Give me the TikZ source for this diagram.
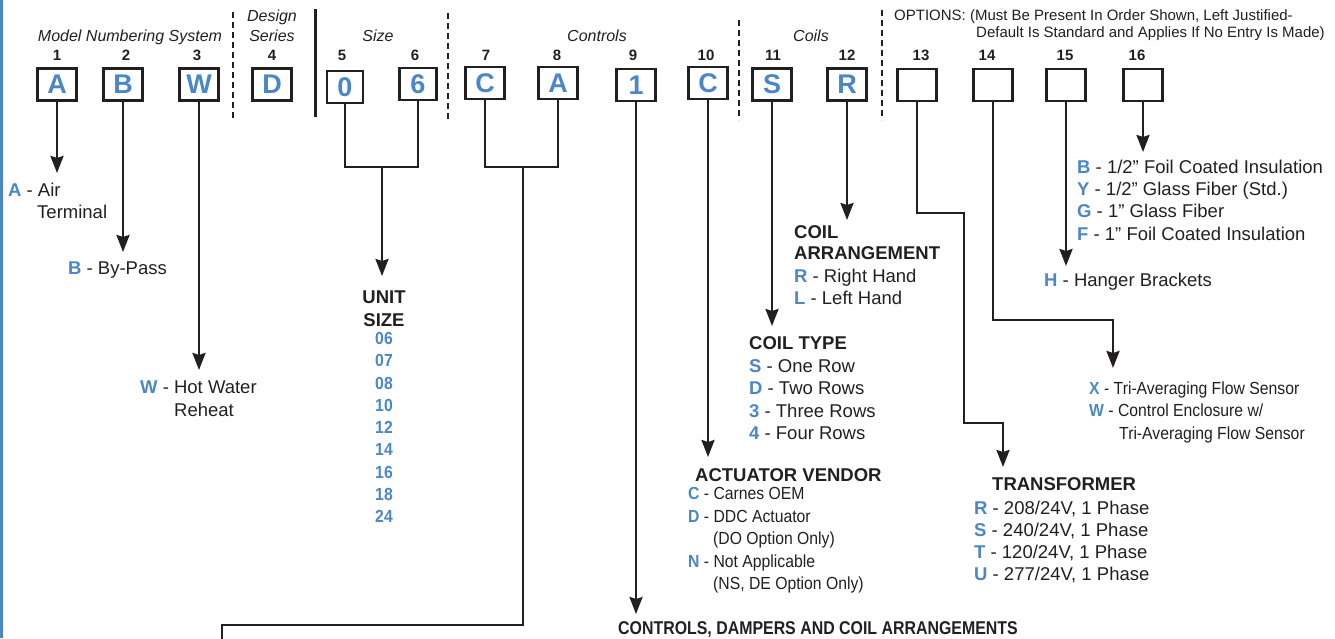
\documentclass[tikz,border=0pt]{standalone}
\usepackage{fontspec}
\setmainfont{Liberation Sans}
\newfontfamily\cond[FakeStretch=0.9]{Liberation Sans}
\newfontfamily\condx[FakeStretch=0.86]{Liberation Sans}
\usetikzlibrary{arrows.meta}
\definecolor{kb}{RGB}{74,134,200}
\definecolor{ink}{RGB}{35,31,32}
\newcommand\kl[1]{{\bfseries\color{kb}#1}}
\begin{document}
\begin{tikzpicture}[x=1pt,y=-1pt,
  box/.style={draw=ink, line width=2.8pt, minimum width=39pt, minimum height=32pt, inner sep=0pt, text=kb, font=\fontsize{27}{27}\selectfont\bfseries},
  num/.style={font=\fontsize{15}{15}\selectfont\bfseries, text=ink, anchor=base, inner sep=0pt},
  hdr/.style={font=\fontsize{16}{16}\selectfont\itshape, text=ink, anchor=base, inner sep=0pt},
  txt/.style={font=\fontsize{18.5}{22}\selectfont, text=ink, anchor=base west, inner sep=0pt},
  ctxt/.style={font=\cond\fontsize{17.5}{20}\selectfont, text=ink, anchor=base west, inner sep=0pt},
  ttl/.style={font=\fontsize{18.5}{22}\selectfont\bfseries, text=ink, anchor=base west, inner sep=0pt},
  usz/.style={font=\cond\fontsize{17.5}{20}\selectfont\bfseries, text=kb, anchor=base, inner sep=0pt},
  opt/.style={font=\fontsize{15}{17}\selectfont, text=ink, anchor=base west, inner sep=0pt},
  conn/.style={draw=ink, line width=2.4pt},
  arr/.style={conn, -{Stealth[length=17pt,width=13pt,inset=2pt]}},
  ddiv/.style={draw=ink, line width=2.5pt, dash pattern=on 6pt off 4pt},
  sdiv/.style={draw=ink, line width=3pt}]
\useasboundingbox (0,0) rectangle (1335,638);
\fill[kb] (0,0) rectangle (2.5,638);

% headers
\node[hdr] (hModel) at (130,41) {Model Numbering System};
\node[hdr] (hDes1) at (272,21) {Design};
\node[hdr] (hDes2) at (272,41) {Series};
\node[hdr] (hSize) at (378,41) {Size};
\node[hdr] (hCtrl) at (597,41) {Controls};
\node[hdr] (hCoil) at (811,41) {Coils};
\node[opt] (hOpt1) at (894,20.5) {OPTIONS: (Must Be Present In Order Shown, Left Justified-};
\node[opt] (hOpt2) at (976,37.5) {Default Is Standard and Applies If No Entry Is Made)};

% dividers
\coordinate (d1a) at (233,12); \coordinate (d1b) at (233,120);
\coordinate (d2a) at (315,9);  \coordinate (d2b) at (315,117);
\coordinate (d3a) at (448,13); \coordinate (d3b) at (448,120);
\coordinate (d4a) at (739,20); \coordinate (d4b) at (739,120);
\coordinate (d5a) at (882,10); \coordinate (d5b) at (882,120);
\draw[ddiv] (d1a) -- (d1b);
\draw[sdiv] (d2a) -- (d2b);
\draw[ddiv] (d3a) -- (d3b);
\draw[ddiv] (d4a) -- (d4b);
\draw[ddiv] (d5a) -- (d5b);

% position numbers
\node[num] (n1) at (57,60.5) {1};
\node[num] (n2) at (126,60.5) {2};
\node[num] (n3) at (197,60.5) {3};
\node[num] (n4) at (272,60.5) {4};
\node[num] (n5) at (342,60.5) {5};
\node[num] (n6) at (415,60.5) {6};
\node[num] (n7) at (486,60.5) {7};
\node[num] (n8) at (557,60.5) {8};
\node[num] (n9) at (633,60.5) {9};
\node[num] (n10) at (706,60.5) {10};
\node[num] (n11) at (773,60.5) {11};
\node[num] (n12) at (847,60.5) {12};
\node[num] (n13) at (921,60.5) {13};
\node[num] (n14) at (987,60.5) {14};
\node[num] (n15) at (1065,60.5) {15};
\node[num] (n16) at (1137,60.5) {16};

% boxes
\node[box] (b1) at (57,84.5) {A};
\node[box] (b2) at (123,84.5) {B};
\node[box] (b3) at (199,84.5) {W};
\node[box] (b4) at (272,84.5) {D};
\node[box, minimum width=36pt] (b5) at (345,87) {0};
\node[box, minimum width=37pt] (b6) at (418,84) {6};
\node[box] (b7) at (485,83) {C};
\node[box] (b8) at (558,83) {A};
\node[box] (b9) at (636,85) {1};
\node[box] (b10) at (708,83) {C};
\node[box] (b11) at (772,84.5) {S};
\node[box] (b12) at (847,84.5) {R};
\node[box] (b13) at (917,85) {};
\node[box] (b14) at (993,85) {};
\node[box] (b15) at (1066,85) {};
\node[box] (b16) at (1143,85) {};

% connector targets
\coordinate (t1) at (57,173);
\coordinate (t2) at (123,252);
\coordinate (t3) at (199,370);
\coordinate (j56) at (382,167);
\coordinate (t56) at (382,276);
\coordinate (j78) at (523,167);
\coordinate (c78a) at (222,625);
\coordinate (c78b) at (222,640);
\coordinate (t9) at (636,614);
\coordinate (t10) at (708,457);
\coordinate (t11) at (772,326);
\coordinate (t12) at (847,220);
\coordinate (c13a) at (964,213);
\coordinate (c13b) at (1003,423);
\coordinate (t13) at (1003,467);
\coordinate (c14) at (1113,320);
\coordinate (t14) at (1113,368);
\coordinate (t15) at (1066,266);
\coordinate (t16) at (1143,152);

\draw[arr] (b1.south) -- (t1);
\draw[arr] (b2.south) -- (t2);
\draw[arr] (b3.south) -- (t3);
\draw[conn] (b5.south) |- (j56);
\draw[conn] (b6.south) |- (j56);
\draw[arr] (j56) -- (t56);
\draw[conn] (b7.south) |- (j78);
\draw[conn] (b8.south) |- (j78);
\draw[conn] (j78) |- (c78a) -- (c78b);
\draw[arr] (b9.south) -- (t9);
\draw[arr] (b10.south) -- (t10);
\draw[arr] (b11.south) -- (t11);
\draw[arr] (b12.south) -- (t12);
\draw[arr] (b13.south) |- (c13a) |- (c13b) -- (t13);
\draw[arr] (b14.south) |- (c14) -- (t14);
\draw[arr] (b15.south) -- (t15);
\draw[arr] (b16.south) -- (t16);

% descriptions
\node[txt] (dA1) at (8,196.5) {\kl{A} - Air};
\node[txt] (dA2) at (37,218.5) {Terminal};
\node[txt] (dB) at (68,274.5) {\kl{B} - By-Pass};
\node[txt] (dW1) at (140,393.5) {\kl{W} - Hot Water};
\node[txt] (dW2) at (174,416.5) {Reheat};

\node[ttl, anchor=base] (uz1) at (384,303.5) {UNIT};
\node[ttl, anchor=base] (uz2) at (384,326.5) {SIZE};
\node[usz] (s06) at (384,344.5) {06};
\node[usz] (s07) at (384,366.5) {07};
\node[usz] (s08) at (384,389) {08};
\node[usz] (s10) at (384,411.3) {10};
\node[usz] (s12) at (384,433.6) {12};
\node[usz] (s14) at (384,455.9) {14};
\node[usz] (s16) at (384,478.2) {16};
\node[usz] (s18) at (384,500.5) {18};
\node[usz] (s24) at (384,522.8) {24};

\node[ttl] (ca1) at (794,238.5) {COIL};
\node[ttl] (ca2) at (794,259.5) {ARRANGEMENT};
\node[txt] (caR) at (794,282.5) {\kl{R} - Right Hand};
\node[txt] (caL) at (794,304.5) {\kl{L} - Left Hand};

\node[ttl] (ct) at (749,349.5) {COIL TYPE};
\node[txt] (ctS) at (749,372.5) {\kl{S} - One Row};
\node[txt] (ctD) at (749,394.5) {\kl{D} - Two Rows};
\node[txt] (ct3) at (749,417.5) {\kl{3} - Three Rows};
\node[txt] (ct4) at (749,439.5) {\kl{4} - Four Rows};

\node[ttl] (av) at (695,481.5) {ACTUATOR VENDOR};
\node[ctxt] (avC) at (688,499) {\kl{C} - Carnes OEM};
\node[ctxt] (avD) at (688,522) {\kl{D} - DDC Actuator};
\node[ctxt] (avD2) at (713,544) {(DO Option Only)};
\node[ctxt] (avN) at (688,567) {\kl{N} - Not Applicable};
\node[ctxt] (avN2) at (713,589) {(NS, DE Option Only)};

\node[ttl] (tr) at (992,490.5) {TRANSFORMER};
\node[txt] (trR) at (974,514.5) {\kl{R} - 208/24V, 1 Phase};
\node[txt] (trS) at (974,536.5) {\kl{S} - 240/24V, 1 Phase};
\node[txt] (trT) at (974,558.5) {\kl{T} - 120/24V, 1 Phase};
\node[txt] (trU) at (974,580.5) {\kl{U} - 277/24V, 1 Phase};

\node[ttl, font=\condx\fontsize{18.5}{22}\selectfont\bfseries] (cdc) at (618,634.5) {CONTROLS, DAMPERS AND COIL ARRANGEMENTS};

\node[txt] (inB) at (1077,173.5) {\kl{B} - 1/2” Foil Coated Insulation};
\node[txt] (inY) at (1077,195.5) {\kl{Y} - 1/2” Glass Fiber (Std.)};
\node[txt] (inG) at (1077,217.5) {\kl{G} - 1” Glass Fiber};
\node[txt] (inF) at (1077,240.5) {\kl{F} - 1” Foil Coated Insulation};

\node[txt] (hb) at (1044,286.5) {\kl{H} - Hanger Brackets};

\node[ctxt] (fsX) at (1089,394) {\kl{X} - Tri-Averaging Flow Sensor};
\node[ctxt] (fsW) at (1089,416) {\kl{W} - Control Enclosure w/};
\node[ctxt] (fsW2) at (1119,439) {Tri-Averaging Flow Sensor};
\end{tikzpicture}
\end{document}
